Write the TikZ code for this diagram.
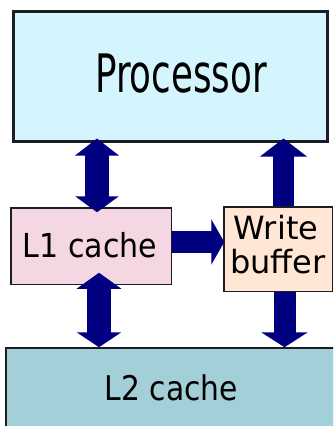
\documentclass[tikz,border=0pt]{standalone}
\usepackage{fontspec}
\setmainfont{DejaVu Sans}
\usetikzlibrary{arrows.meta}
\definecolor{procfill}{HTML}{D4F5FD}
\definecolor{lonefill}{HTML}{F5D7E4}
\definecolor{wbfill}{HTML}{FFE6D5}
\definecolor{ltwofill}{HTML}{A3D0D8}
\definecolor{navyarrow}{HTML}{000080}
\definecolor{edgedark}{HTML}{1C1C24}
\tikzset{
  box/.style={draw=edgedark, line width=1.5pt, inner sep=0pt},
  txt/.style={inner sep=0pt, anchor=base},
  bigarrow/.style={draw=navyarrow, line width=#1, line cap=butt},
  bigarrow/.default=24pt,
}
\begin{document}
\begin{tikzpicture}[x=1pt,y=-1pt]
\useasboundingbox (0,0) rectangle (333,426);
\clip (0,0) rectangle (333,426);
% boxes
\node[box, line width=3pt, fill=procfill, minimum width=314pt, minimum height=130pt] (proc) at (170.5,76.5) {};
\node[box, fill=lonefill, minimum width=160.5pt, minimum height=76.5pt] (l1) at (91,246) {};
\node[box, fill=wbfill, minimum width=108.5pt, minimum height=84.5pt] (wb) at (278,249) {};
\node[box, fill=ltwofill, minimum width=340pt, minimum height=100pt] (l2) at (175.75,397.75) {};
% texts
\node[txt] (tproc) at (181,92) {\scalebox{0.673}[1]{\fontsize{53}{60}\selectfont Processor}};
\node[txt] (tl1) at (90,257) {\scalebox{0.91}[1]{\fontsize{33}{40}\selectfont L1 cache}};
\node[txt] (twb1) at (276,239) {\fontsize{32}{34}\selectfont Write};
\node[txt] (twb2) at (278,273) {\fontsize{32}{34}\selectfont buffer};
\node[txt] (tl2) at (171.5,400) {\scalebox{0.875}[1]{\fontsize{34}{40}\selectfont L2 cache}};
% arrows
\path ([xshift=6pt]l1.north) coordinate (aone);
\draw[bigarrow=24pt, {Triangle[width=43pt,length=17pt]}-{Triangle[width=43pt,length=16pt]},
      shorten <=-4.5pt, shorten >=-5.25pt] (proc.south -| aone) -- (aone);
\path ([xshift=5.5pt]wb.north) coordinate (atwo);
\draw[bigarrow=21pt, -{Triangle[width=46pt,length=18pt]}, shorten >=-4.5pt]
      (atwo) -- (proc.south -| atwo);
\path ([yshift=4pt]l1.east) coordinate (athree);
\draw[bigarrow=22pt, -{Triangle[width=45pt,length=13pt]}, shorten >=-1.25pt]
      (athree) -- (athree -| wb.west);
\path ([xshift=8pt]l1.south) coordinate (afour);
\draw[bigarrow=24pt, {Triangle[width=44pt,length=16pt]}-{Triangle[width=44pt,length=15pt]},
      shorten <=-12.25pt, shorten >=-0.25pt] (afour) -- (afour |- l2.north);
\path ([xshift=6.5pt]wb.south) coordinate (afive);
\draw[bigarrow=22pt, -{Triangle[width=46pt,length=15pt]}, shorten >=-0.25pt]
      (afive) -- (afive |- l2.north);
\end{tikzpicture}
\end{document}
